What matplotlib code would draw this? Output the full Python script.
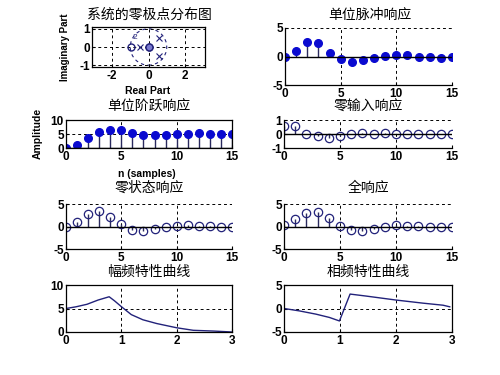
import matplotlib.pyplot as plt
from matplotlib.patches import Circle

plt.rcParams['font.family'] = ['Liberation Sans', 'DejaVu Sans']
plt.rcParams['font.weight'] = 'bold'
plt.rcParams['axes.unicode_minus'] = False

W, H = 500, 375
CJK = ['Noto Sans CJK SC', 'DejaVu Sans']

# zeros / poles
zero_re = [-0.95, 0.05]
zero_im = [0.0, 0.0]
pole_re = [-0.45, 0.55, 0.55]
pole_im = [0.0, 0.52, -0.52]

n = list(range(16))
impulse = [0, 0.9, 2.6, 2.4, 0.7, -0.5, -0.9, -0.7, -0.3, 0.1, 0.3, 0.2, -0.05, 0.0, -0.2, -0.05]
step = [0, 1.2, 3.4, 5.6, 6.6, 6.4, 5.3, 4.6, 4.6, 4.6, 5.1, 5.1, 5.3, 4.9, 4.9, 4.9]
zero_input = [0.54, 0.54, 0.0, -0.14, -0.3, -0.14, 0.0, 0.07, 0.02, 0.05, 0.0, 0.0, 0.0, 0.0, 0.0, 0.0]
zero_state = [0, 1.0, 2.8, 3.4, 2.1, 0.5, -0.8, -1.1, -0.6, -0.1, 0.2, 0.3, 0.1, 0.1, -0.1, -0.15]
full_resp = [0.4, 1.6, 2.9, 3.2, 1.9, 0.2, -0.8, -1.05, -0.6, -0.1, 0.3, 0.2, 0.1, -0.1, -0.15, -0.15]

w_mag = [0, 0.18, 0.38, 0.58, 0.78, 0.88, 1.0, 1.18, 1.39, 1.64, 2.0, 2.3, 2.67, 3.0]
mag = [5.0, 5.36, 5.9, 6.8, 7.5, 6.6, 5.4, 3.7, 2.6, 1.8, 0.9, 0.36, 0.2, 0.0]
w_ph = [0, 0.27, 0.57, 0.81, 0.99, 1.18, 1.47, 2.0, 2.48, 2.84, 2.96]
phase = [0, -0.5, -1.2, -1.9, -2.65, 3.07, 2.64, 1.8, 1.14, 0.7, 0.36]

LINE = '#22227a'
STEMC = '#2a2a5e'
FILL = '#0a0ad0'

fig = plt.figure(figsize=(5, 3.75), dpi=100)


def box(l, t, r, b):
    return fig.add_axes([l / W, 1 - b / H, (r - l) / W, (b - t) / H])


def title(cx, cy, s):
    fig.text(cx / W, 1 - cy / H, s, ha='center', va='center', fontsize=10,
             family=CJK, fontweight='normal')


def style(ax, boxed=True):
    ax.tick_params(labelsize=8.5, length=2, direction='in', pad=1.5)
    ax.tick_params(axis='x', pad=2.5)
    ax.grid(True, linestyle=(0, (3, 3)), color='k', linewidth=0.7)
    for s in ax.spines.values():
        s.set_linewidth(0.9)
    if not boxed:
        ax.spines['top'].set_visible(False)
        ax.spines['right'].set_visible(False)


def stem_plot(ax, y, filled):
    ml, sl, bl = ax.stem(n, y, basefmt='k-')
    sl.set_color(STEMC)
    sl.set_linewidth(1)
    bl.set_linewidth(1)
    if filled:
        ml.set_markerfacecolor(FILL)
        ml.set_markeredgecolor(FILL)
        ml.set_markersize(5.5)
    else:
        ml.set_markerfacecolor('none')
        ml.set_markeredgecolor(LINE)
        ml.set_markersize(6)
        ml.set_markeredgewidth(0.9)
    ax.set_xlim(0, 15)
    ax.set_xticks([0, 5, 10, 15])


# 1 zero-pole plot
ax1 = box(92, 27, 205, 67)
ax1.add_patch(Circle((0, 0), 1, fill=False, linestyle=(0, (3, 3)), color=LINE, linewidth=0.8))
ax1.plot(zero_re, zero_im, 'o', mfc='none', mec=LINE, ms=5)
ax1.plot(zero_re[1:], zero_im[1:], 'o', mfc='#7a7ad0', mec=LINE, ms=5)
ax1.plot(pole_re, pole_im, 'x', color=LINE, ms=5, mew=0.8)
ax1.text(-0.75, 0.5, '2', fontsize=6, color=LINE, ha='center', va='center', fontweight='normal')
ax1.set_xlim(-3.1, 3.1)
ax1.set_ylim(-1.1, 1.1)
ax1.set_xticks([-2, 0, 2])
ax1.set_yticks([-1, 0, 1])
style(ax1)
title(149, 15, '系统的零极点分布图')
fig.text(148 / W, 1 - 91 / H, 'Real Part', ha='center', va='center', fontsize=7.5)
fig.text(65 / W, 1 - 47 / H, 'Imaginary Part', ha='center', va='center', fontsize=7, rotation=90)

# 2 impulse response
ax2 = box(285, 28, 452, 85)
stem_plot(ax2, impulse, True)
ax2.set_ylim(-5, 5)
ax2.set_yticks([-5, 0, 5])
style(ax2, boxed=False)
title(370, 15, '单位脉冲响应')

# 3 step response
ax3 = box(66, 120, 232, 148)
stem_plot(ax3, step, True)
ax3.set_ylim(0, 10)
ax3.set_yticks([0, 5, 10])
style(ax3)
title(149, 107, '单位阶跃响应')
fig.text(147 / W, 1 - 174 / H, 'n (samples)', ha='center', va='center', fontsize=7.5)
fig.text(38 / W, 1 - 133 / H, 'Amplitude', ha='center', va='center', fontsize=7.5, rotation=90)

# 4 zero-input response
ax4 = box(284, 120, 452, 148)
stem_plot(ax4, zero_input, False)
ax4.set_ylim(-1, 1)
ax4.set_yticks([-1, 0, 1])
style(ax4, boxed=False)
title(368, 107, '零输入响应')

# 5 zero-state response
ax5 = box(66, 204, 232, 249)
stem_plot(ax5, zero_state, False)
ax5.set_ylim(-5, 5)
ax5.set_yticks([-5, 0, 5])
style(ax5, boxed=False)
title(149, 188, '零状态响应')

# 6 full response
ax6 = box(284, 204, 452, 249)
stem_plot(ax6, full_resp, False)
ax6.set_ylim(-5, 5)
ax6.set_yticks([-5, 0, 5])
style(ax6, boxed=False)
title(368, 188, '全响应')

# 7 magnitude
ax7 = box(66, 285, 232, 332)
ax7.plot(w_mag, mag, color=LINE, linewidth=1)
ax7.set_xlim(0, 3)
ax7.set_ylim(0, 10)
ax7.set_xticks([0, 1, 2, 3])
ax7.set_yticks([0, 5, 10])
style(ax7)
title(149, 272, '幅频特性曲线')

# 8 phase
ax8 = box(284, 285, 452, 332)
ax8.plot(w_ph, phase, color=LINE, linewidth=1)
ax8.set_xlim(0, 3)
ax8.set_ylim(-5, 5)
ax8.set_xticks([0, 1, 2, 3])
ax8.set_yticks([-5, 0, 5])
style(ax8)
title(368, 272, '相频特性曲线')

fig.savefig('out.png', dpi=100)
